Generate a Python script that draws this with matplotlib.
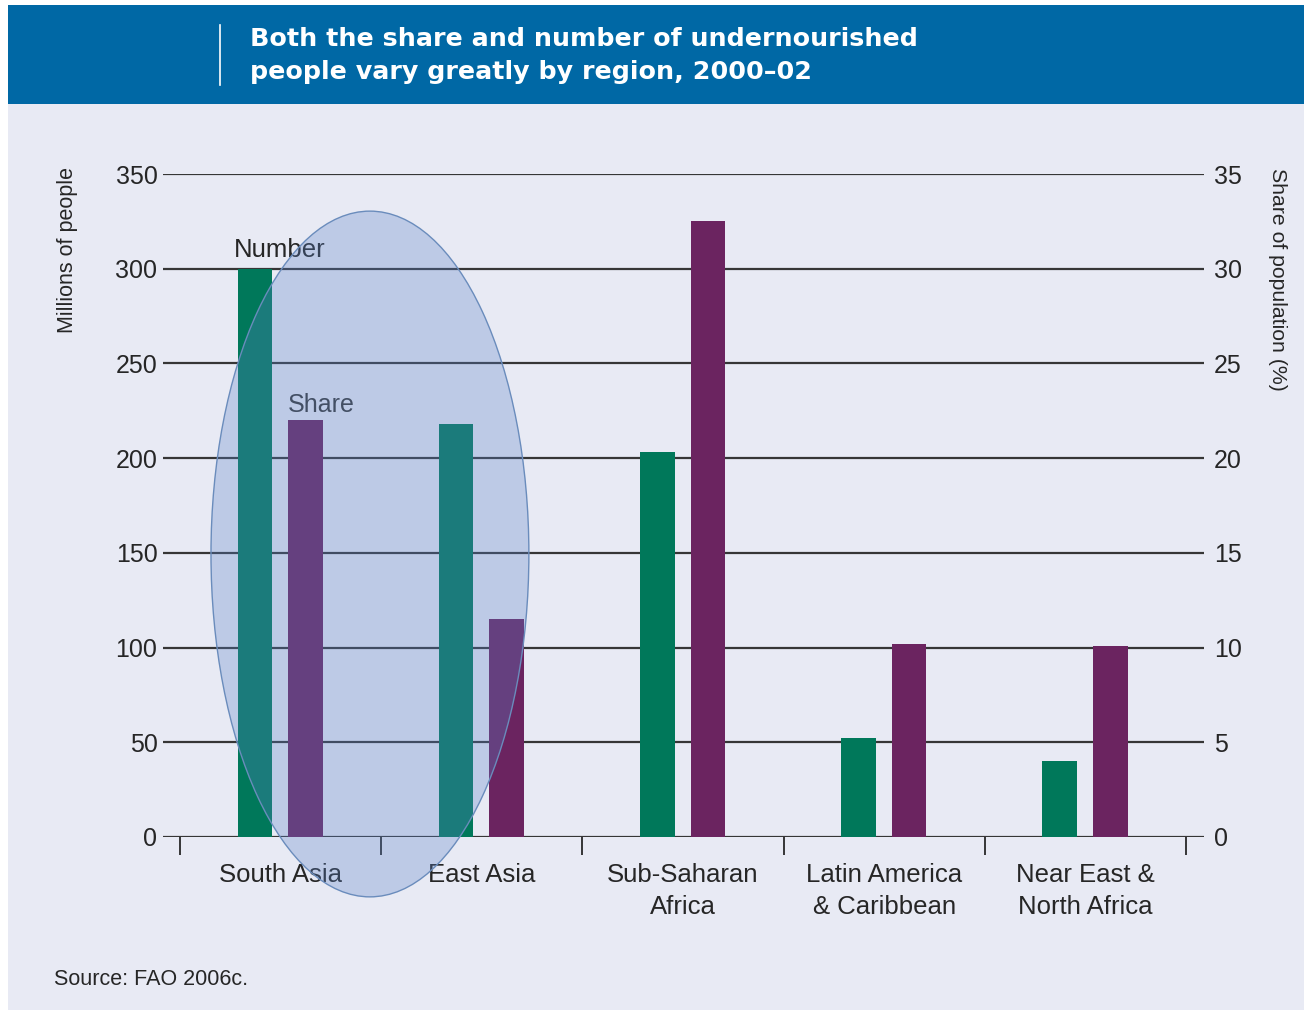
import numpy as np
import matplotlib

matplotlib.use('Agg')
import matplotlib.pyplot as plt
from matplotlib.patches import Rectangle, Ellipse
from matplotlib.lines import Line2D

# undernourished people by region, 2000-02
regions = ['South Asia', 'East Asia', 'Sub-Saharan\nAfrica', 'Latin America\n& Caribbean',
           'Near East &\nNorth Africa']
number_millions = [300, 218, 203, 52, 40]     # millions of people
share_pct = [22.0, 11.5, 32.5, 10.2, 10.1]    # share of population (%)
left_ticks = [0, 50, 100, 150, 200, 250, 300, 350]
right_ticks = [0, 5, 10, 15, 20, 25, 30, 35]

W, H = 1304, 1013
BLUE = '#0068a5'
BG = '#e8eaf4'
GREEN = '#00785a'
PURPLE = '#6b2460'
GRID = '#363636'
TXT = '#262626'

plt.rcParams['font.family'] = ['Liberation Sans', 'DejaVu Sans']


def fx(px):
    return px / W


def fy(py):
    return 1 - py / H


def main():
    fig = plt.figure(figsize=(W / 100, H / 100), dpi=100, facecolor='white')

    # page background and title band (behind the axes)
    fig.patches.append(Rectangle((fx(8), fy(1010)), 1 - fx(8), fy(104) - fy(1010),
                                 transform=fig.transFigure, facecolor=BG, edgecolor='none', zorder=-5))
    fig.patches.append(Rectangle((fx(8), fy(104)), 1 - fx(8), fy(5) - fy(104),
                                 transform=fig.transFigure, facecolor=BLUE, edgecolor='none', zorder=-5))
    fig.lines.append(Line2D([fx(220), fx(220)], [fy(25), fy(85)], transform=fig.transFigure,
                            color='white', lw=1.2))
    fig.text(fx(250), fy(39), 'Both the share and number of undernourished', color='white',
             fontsize=18.3, fontweight='bold', family='DejaVu Sans', ha='left', va='center')
    fig.text(fx(250), fy(72), 'people vary greatly by region, 2000\u201302', color='white',
             fontsize=18.3, fontweight='bold', family='DejaVu Sans', ha='left', va='center')

    # main axes: left = millions, right = share
    ax = fig.add_axes([fx(163), fy(837), fx(1204) - fx(163), fy(174) - fy(837)])
    ax.set_facecolor('none')
    ax2 = ax.twinx()

    x = np.arange(len(regions)) + 0.5
    w = 0.172
    ax.bar(x - 0.128, number_millions, width=w, color=GREEN, zorder=3)
    ax2.bar(x + 0.124, share_pct, width=w, color=PURPLE, zorder=3)

    ax.set_xlim(-17 / 201.2, (1204 - 180) / 201.2)
    ax.set_ylim(0, 350)
    ax2.set_ylim(0, 35)

    for a in (ax, ax2):
        for s in a.spines.values():
            s.set_visible(False)

    ax.set_yticks(left_ticks)
    ax2.set_yticks(right_ticks)
    ax.yaxis.grid(True, color=GRID, lw=1.6, zorder=1)
    ax.set_axisbelow(True)
    ax.tick_params(axis='y', length=0, pad=4, labelsize=18, labelcolor=TXT)
    ax2.tick_params(axis='y', length=0, pad=7, labelsize=18, labelcolor=TXT)

    # region boundaries as ticks, names centred between them
    ax.set_xticks(np.arange(len(regions) + 1))
    ax.set_xticklabels([])
    ax.tick_params(axis='x', which='major', direction='out', length=13, width=1.4, color=GRID)
    ax.set_xticks(x, minor=True)
    ax.set_xticklabels(regions, minor=True, fontsize=18.5, color=TXT, linespacing=1.4)
    ax.tick_params(axis='x', which='minor', length=0, pad=19)

    # series labels on the first pair of bars
    ax.text(x[0] - 0.128 - w / 2 - 0.02, number_millions[0] + 6, 'Number', fontsize=18.5,
            color=TXT, ha='left', va='baseline', zorder=4)
    ax2.text(x[0] + 0.124 - w / 2, share_pct[0] + 0.42, 'Share', fontsize=18,
             color='#3a3a3a', ha='left', va='baseline', zorder=4)

    # highlight around the two Asian regions
    ell = Ellipse((0.944, 149.4), 1.58, 362, transform=ax.transData, facecolor='#5a82c8',
                  alpha=0.3, edgecolor='none', zorder=5, clip_on=False)
    ax2.add_patch(ell)
    ell_edge = Ellipse((0.944, 149.4), 1.58, 362, transform=ax.transData, facecolor='none',
                       edgecolor='#6a8cbc', lw=1.0, zorder=6, clip_on=False)
    ax2.add_patch(ell_edge)

    fig.text(fx(68), fy(250), 'Millions of people', rotation=90, fontsize=15.5, color=TXT,
             ha='center', va='center')
    fig.text(fx(1278), fy(279), 'Share of population (%)', rotation=270, fontsize=15.3,
             color=TXT, ha='center', va='center')
    fig.text(fx(54), fy(979), 'Source: FAO 2006c.', fontsize=15.5, color=TXT, ha='left', va='center')

    fig.savefig('out.png', dpi=100, facecolor='white')


if __name__ == '__main__':
    main()
